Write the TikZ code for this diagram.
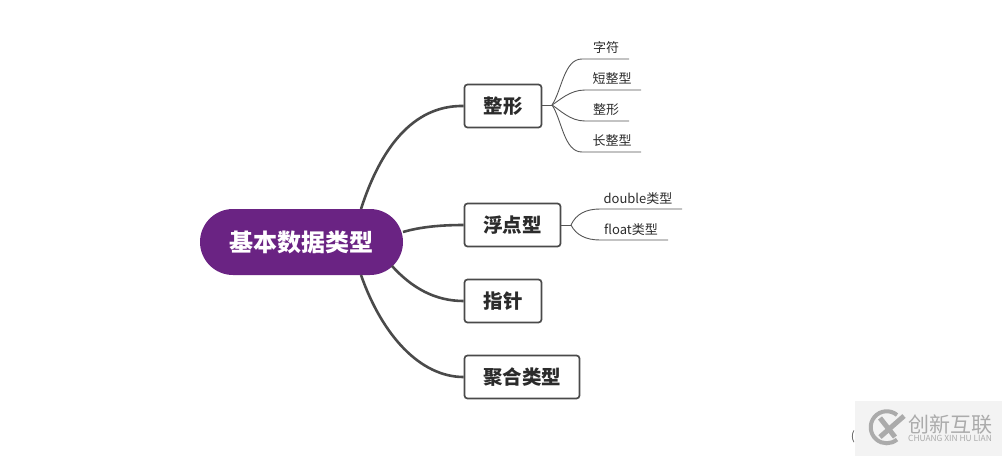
\documentclass[tikz,border=0pt]{standalone}
\usepackage{fontspec}
\setmainfont{Noto Sans CJK SC}
\definecolor{Purple1}{HTML}{6A2383}
\definecolor{Line1}{HTML}{4A4A4A}
\definecolor{Line2}{HTML}{555555}
\definecolor{Text1}{HTML}{2B2B2B}
\definecolor{Mark1}{HTML}{F3F3F3}
\definecolor{Mark2}{HTML}{ABABAB}
\tikzset{
  rootbox/.style={fill=Purple1,text=white,rounded corners=33pt,minimum width=203pt,minimum height=66pt,inner sep=0pt,font=\fontsize{24}{24}\selectfont\bfseries},
  topicbox/.style={draw=Line1,fill=white,line width=1.7pt,rounded corners=3pt,minimum height=43pt,inner sep=0pt,text=Text1,font=\fontsize{19.5}{19.5}\selectfont\bfseries},
  leaflabel/.style={inner sep=0pt,text=Text1,font=\fontsize{13}{13}\selectfont},
  bigline/.style={draw=Line1,line width=2.6pt},
  thinline/.style={draw=Line2,line width=0.9pt},
}

\begin{document}
\begin{tikzpicture}[x=1pt,y=-1pt]
  \useasboundingbox (0,0) rectangle (1002,456);

  % Root and topics
  \node[rootbox] (root) at (301.5,242) {基本数据类型};
  \node[topicbox,minimum width=77pt] (zx) at (503,106) {整形};
  \node[topicbox,minimum width=96pt] (fd) at (512.5,225) {浮点型};
  \node[topicbox,minimum width=77pt] (zz) at (503,301) {指针};
  \node[topicbox,minimum width=115pt] (jh) at (522,377) {聚合类型};

  % Thick branches
  \coordinate (r1) at (361,209);
  \coordinate (r2) at (403,232);
  \coordinate (r3) at (392,266);
  \coordinate (r4) at (361,275);
  \draw[bigline] (r1) .. controls (380,150) and (412,105) .. (zx.west);
  \draw[bigline] (r2) .. controls (420,227) and (440,225) .. (fd.west);
  \draw[bigline] (r3) .. controls (412,288) and (435,301) .. (zz.west);
  \draw[bigline] (r4) .. controls (382,335) and (420,377) .. (jh.west);

  % Leaves of the first topic
  \coordinate (zxj) at (552,105);
  \draw[thinline] (zx.east |- zxj) -- (zxj);
  \coordinate (a1) at (629,59);
  \coordinate (a2) at (641,90);
  \coordinate (a3) at (629,121);
  \coordinate (a4) at (641,152);
  \draw[thinline] (zxj) .. controls (562,90) and (564,59) .. (582,59) -- (a1);
  \draw[thinline] (zxj) .. controls (560,100) and (570,90) .. (585,90) -- (a2);
  \draw[thinline] (zxj) .. controls (560,110) and (570,121) .. (585,121) -- (a3);
  \draw[thinline] (zxj) .. controls (562,120) and (564,152) .. (582,152) -- (a4);
  \node[leaflabel] (zf) at (606,47.7) {字符};
  \node[leaflabel] (dzx) at (612,78) {短整型};
  \node[leaflabel] (zxl) at (606,110) {整形};
  \node[leaflabel] (czx) at (612,141) {长整型};

  % Leaves of the second topic
  \coordinate (fdj) at (571,225);
  \draw[thinline] (fd.east) -- (fdj);
  \coordinate (b1) at (682,209);
  \coordinate (b2) at (668,240);
  \draw[thinline] (fdj) .. controls (576,214) and (586,209) .. (600,209) -- (b1);
  \draw[thinline] (fdj) .. controls (576,235) and (586,240) .. (600,240) -- (b2);
  \node[leaflabel] (db) at (638,198.5) {double类型};
  \node[leaflabel] (fl) at (631,229.5) {float类型};

  % Corner mark
  \fill[Mark1] (855,401) rectangle (1002,456);
  \node[text=Line2,inner sep=0pt,font=\fontsize{12}{12}\selectfont] (br) at (853,437) {(};
  \draw[Mark2,line width=4pt] (897,415) arc (-50:-310:16);
  \draw[Mark2,line width=5pt] (880,418) -- (895,437);
  \draw[Mark2,line width=5pt] (880,437) -- (904,416);
  \node[text=Mark2,inner sep=0pt,font=\fontsize{21}{21}\selectfont] (cx) at (950,425) {创新互联};
  \node[text=Mark2,inner sep=0pt,font=\fontsize{8.4}{9}\selectfont] (py) at (950,438.5) {CHUANG XIN HU LIAN};
\end{tikzpicture}
\end{document}
